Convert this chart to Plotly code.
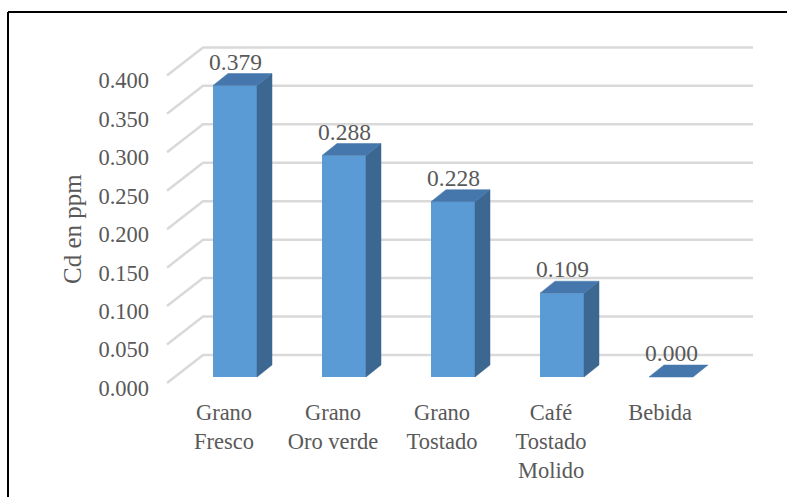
import plotly.graph_objects as go

# ---------------- data ----------------
categories = ["Grano<br>Fresco", "Grano<br>Oro verde", "Grano<br>Tostado",
              "Café<br>Tostado<br>Molido", "Bebida"]
values = [0.379, 0.288, 0.228, 0.109, 0.000]
y_ticks = [0.00, 0.05, 0.10, 0.15, 0.20, 0.25, 0.30, 0.35, 0.40]
y_tick_labels = ["0.000", "0.050", "0.100", "0.150", "0.200",
                 "0.250", "0.300", "0.350", "0.400"]
y_title = "Cd en ppm"

# ---------------- geometry / style ----------------
W, H = 787, 497
ML, MR, MT, MB = 150, 17, 30, 97
PX_X0, PX_STEP = 224, 109          # pixel of category 0 (front wall) and spacing
PX_Y0, PX_PER_UNIT = 383, 769      # pixel of value 0 (front wall) and px per unit

def dxd(px):
    return px / PX_STEP

def dyd(px):  # px positive = upward on screen
    return px / PX_PER_UNIT

x_range = [(ML - PX_X0) / PX_STEP, (W - MR - PX_X0) / PX_STEP]
y_range = [(PX_Y0 - (H - MB)) / PX_PER_UNIT, (PX_Y0 - MT) / PX_PER_UNIT]

# pseudo-3D offsets
BACK_DX, BACK_DY = dxd(36), dyd(28)     # back wall
FRONT_DX, FRONT_DY = dxd(11), dyd(6)    # bar front face
DEPTH_DX, DEPTH_DY = dxd(15), dyd(12)   # bar depth
HALF_W = dxd(22)
WALL_L = -dxd(57)
WALL_R = (len(categories) - 1) + dxd(57)

FRONT_C = "#5B9BD5"
SIDE_C = "#3B6791"
TOP_C = "#4577AC"
GRID_C = "#D9D9D9"
TEXT_C = "#595959"
FONT = "Liberation Serif, Times New Roman, serif"
FS_TICK = 22.5
FS_CAT = 22.5
FS_LABEL = 23.5
FS_TITLE = 25

fig = go.Figure()

# walls: side-wall diagonals + back-wall gridlines (drawn beneath the bars)
for v in y_ticks:
    path = "M {} {} L {} {} L {} {}".format(
        WALL_L, v, WALL_L + BACK_DX, v + BACK_DY, WALL_R + BACK_DX, v + BACK_DY)
    fig.add_shape(type="path", path=path, xref="x", yref="y", layer="below",
                  line=dict(color=GRID_C, width=2.5))

# bar front faces
xs = [i + FRONT_DX for i in range(len(values))]
fig.add_trace(go.Bar(x=xs, y=values, base=FRONT_DY, width=2 * HALF_W,
                     marker=dict(color=FRONT_C, line=dict(width=0)),
                     hoverinfo="skip", showlegend=False))

# side and top faces, value labels
for i, v in enumerate(values):
    c = xs[i]
    b0 = FRONT_DY
    t0 = FRONT_DY + v
    if v > 0:
        fig.add_trace(go.Scatter(
            x=[c + HALF_W, c + HALF_W + DEPTH_DX, c + HALF_W + DEPTH_DX, c + HALF_W, c + HALF_W],
            y=[b0, b0 + DEPTH_DY, t0 + DEPTH_DY, t0, b0],
            mode="lines", fill="toself", fillcolor=SIDE_C,
            line=dict(width=0.5, color=SIDE_C), hoverinfo="skip", showlegend=False))
    fig.add_trace(go.Scatter(
        x=[c - HALF_W, c + HALF_W, c + HALF_W + DEPTH_DX, c - HALF_W + DEPTH_DX, c - HALF_W],
        y=[t0, t0, t0 + DEPTH_DY, t0 + DEPTH_DY, t0],
        mode="lines", fill="toself", fillcolor=TOP_C,
        line=dict(width=0.5, color=TOP_C), hoverinfo="skip", showlegend=False))
    fig.add_annotation(x=c, y=t0, xref="x", yref="y", text=f"{v:.3f}",
                       showarrow=False, yanchor="middle", yshift=24,
                       font=dict(family=FONT, size=FS_LABEL, color=TEXT_C))

# y-axis title
pw, ph = W - ML - MR, H - MT - MB
fig.add_annotation(x=(72 - ML) / pw, y=((H - MB) - 229) / ph,
                   xref="paper", yref="paper", text=y_title, textangle=-90,
                   showarrow=False, xanchor="center", yanchor="middle",
                   font=dict(family=FONT, size=FS_TITLE, color=TEXT_C))

# outer frame (top and left edges visible)
fx = (8 - ML) / pw
fy = ((H - MB) - 12) / ph
fig.add_shape(type="line", xref="paper", yref="paper",
              x0=fx, x1=(W + 5 - ML) / pw, y0=fy, y1=fy,
              line=dict(color="black", width=2))
fig.add_shape(type="line", xref="paper", yref="paper",
              x0=fx, x1=fx, y0=fy, y1=((H - MB) - (H + 5)) / ph,
              line=dict(color="black", width=2))

fig.update_layout(
    width=W, height=H,
    margin=dict(l=ML, r=MR, t=MT, b=MB, autoexpand=False),
    paper_bgcolor="white", plot_bgcolor="white",
    font=dict(family=FONT, size=FS_TICK, color=TEXT_C),
    showlegend=False, hovermode=False,
    xaxis=dict(range=x_range, tickmode="array",
               tickvals=list(range(len(categories))), ticktext=categories,
               showgrid=False, zeroline=False, showline=False, ticks="",
               tickfont=dict(family=FONT, size=FS_CAT, color=TEXT_C),
               ticklabelstandoff=-4, automargin=False, fixedrange=True),
    yaxis=dict(range=y_range, tickmode="array", tickvals=y_ticks,
               ticktext=y_tick_labels, showgrid=False, zeroline=False,
               showline=False, ticks="",
               tickfont=dict(family=FONT, size=FS_TICK, color=TEXT_C),
               ticklabelshift=5, automargin=False, fixedrange=True),
)

fig.write_html("out.html")
